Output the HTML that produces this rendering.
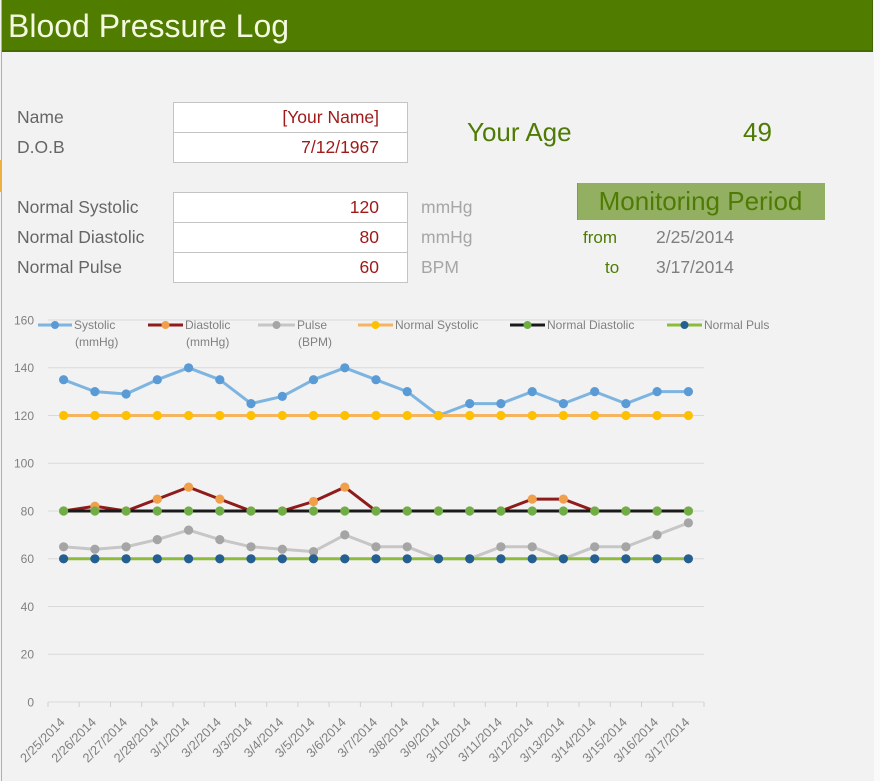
<!DOCTYPE html>
<html><head><meta charset="utf-8">
<style>
html,body{margin:0;padding:0;}
body{width:880px;height:781px;background:#F2F2F2;position:relative;overflow:hidden;font-family:"Liberation Sans",Arial,sans-serif;}
.abs{position:absolute;white-space:nowrap;}
#hdr{position:absolute;left:2px;top:0;width:870px;height:50px;background:#507D00;border-right:1px solid #3F6600;border-bottom:2px solid #436A00;}
.lbl{font-size:17.5px;color:#666;}
.box{position:absolute;left:173px;width:233px;height:29px;background:#fff;border:1px solid #C4C4C4;}
.val{font-size:17.5px;color:#A01A1A;text-align:right;}
.unit{font-size:17.5px;color:#A6A6A6;}
.grn{color:#4F7B05;}
</style></head><body>
<div class="abs" style="left:1px;top:0;width:1px;height:781px;background:#B0B0B0;"></div>
<div class="abs" style="left:0;top:160px;width:2px;height:32px;background:#F0B040;"></div>
<div class="abs" style="left:874px;top:0;width:6px;height:781px;background:#FAFAFA;"></div>
<div id="hdr"></div>
<svg class="abs" style="left:0;top:0" width="880" height="781" viewBox="0 0 880 781" xmlns="http://www.w3.org/2000/svg">
<defs>
<marker id="mS" markerWidth="12" markerHeight="12" refX="6" refY="6" markerUnits="userSpaceOnUse"><circle cx="6" cy="6" r="4.6" fill="#5B9BD5"/></marker>
<marker id="mD" markerWidth="12" markerHeight="12" refX="6" refY="6" markerUnits="userSpaceOnUse"><circle cx="6" cy="6" r="4.6" fill="#F0A04A"/></marker>
<marker id="mP" markerWidth="12" markerHeight="12" refX="6" refY="6" markerUnits="userSpaceOnUse"><circle cx="6" cy="6" r="4.6" fill="#A5A5A5"/></marker>
<marker id="mNS" markerWidth="12" markerHeight="12" refX="6" refY="6" markerUnits="userSpaceOnUse"><circle cx="6" cy="6" r="4.6" fill="#FFC000"/></marker>
<marker id="mND" markerWidth="12" markerHeight="12" refX="6" refY="6" markerUnits="userSpaceOnUse"><circle cx="6" cy="6" r="4.6" fill="#70AD47"/></marker>
<marker id="mNP" markerWidth="12" markerHeight="12" refX="6" refY="6" markerUnits="userSpaceOnUse"><circle cx="6" cy="6" r="4.6" fill="#255E91"/></marker>
</defs>
<text x="8" y="37" font-family="Liberation Sans, Arial, sans-serif" font-size="32" fill="#F3F8DE">Blood Pressure Log</text>

<g stroke="#D9D9D9" stroke-width="1">
<line x1="48" y1="320" x2="704" y2="320"/>
<line x1="48" y1="367.75" x2="704" y2="367.75"/>
<line x1="48" y1="415.5" x2="704" y2="415.5"/>
<line x1="48" y1="463.25" x2="704" y2="463.25"/>
<line x1="48" y1="511" x2="704" y2="511"/>
<line x1="48" y1="558.75" x2="704" y2="558.75"/>
<line x1="48" y1="606.5" x2="704" y2="606.5"/>
<line x1="48" y1="654.25" x2="704" y2="654.25"/>
<line x1="48" y1="702" x2="704" y2="702"/>
</g>
<g stroke="#D0D0D0" stroke-width="1">
<line x1="48" y1="702" x2="48" y2="707"/><line x1="79.2" y1="702" x2="79.2" y2="707"/><line x1="110.5" y1="702" x2="110.5" y2="707"/><line x1="141.7" y1="702" x2="141.7" y2="707"/><line x1="173" y1="702" x2="173" y2="707"/><line x1="204.2" y1="702" x2="204.2" y2="707"/><line x1="235.4" y1="702" x2="235.4" y2="707"/><line x1="266.7" y1="702" x2="266.7" y2="707"/><line x1="297.9" y1="702" x2="297.9" y2="707"/><line x1="329.1" y1="702" x2="329.1" y2="707"/><line x1="360.4" y1="702" x2="360.4" y2="707"/><line x1="391.6" y1="702" x2="391.6" y2="707"/><line x1="422.9" y1="702" x2="422.9" y2="707"/><line x1="454.1" y1="702" x2="454.1" y2="707"/><line x1="485.3" y1="702" x2="485.3" y2="707"/><line x1="516.6" y1="702" x2="516.6" y2="707"/><line x1="547.8" y1="702" x2="547.8" y2="707"/><line x1="579" y1="702" x2="579" y2="707"/><line x1="610.3" y1="702" x2="610.3" y2="707"/><line x1="641.5" y1="702" x2="641.5" y2="707"/><line x1="672.8" y1="702" x2="672.8" y2="707"/><line x1="704" y1="702" x2="704" y2="707"/>
</g>

<g font-family="Liberation Sans, Arial, sans-serif" font-size="12" fill="#808080" text-anchor="end">
<text x="34" y="324.5">160</text>
<text x="34" y="372.2">140</text>
<text x="34" y="420">120</text>
<text x="34" y="467.7">100</text>
<text x="34" y="515.5">80</text>
<text x="34" y="563.2">60</text>
<text x="34" y="611">40</text>
<text x="34" y="658.7">20</text>
<text x="34" y="706.5">0</text>
</g>

<g fill="none" stroke-width="3" stroke-linejoin="round">
<polyline stroke="#7DB4E0" marker-start="url(#mS)" marker-mid="url(#mS)" marker-end="url(#mS)" points="63.6,379.7 94.9,391.6 126.1,394.0 157.3,379.7 188.6,367.8 219.8,379.7 251.0,403.6 282.3,396.4 313.5,379.7 344.8,367.8 376.0,379.7 407.2,391.6 438.5,415.5 469.7,403.6 500.9,403.6 532.2,391.6 563.4,403.6 594.7,391.6 625.9,403.6 657.1,391.6 688.4,391.6"/>
<polyline stroke="#8E1C1C" marker-start="url(#mD)" marker-mid="url(#mD)" marker-end="url(#mD)" points="63.6,511 94.9,506.2 126.1,511 157.3,499.1 188.6,487.1 219.8,499.1 251.0,511 282.3,511 313.5,501.5 344.8,487.1 376.0,511 407.2,511 438.5,511 469.7,511 500.9,511 532.2,499.1 563.4,499.1 594.7,511 625.9,511 657.1,511 688.4,511"/>
<polyline stroke="#C6C6C6" marker-start="url(#mP)" marker-mid="url(#mP)" marker-end="url(#mP)" points="63.6,546.8 94.9,549.2 126.1,546.8 157.3,539.6 188.6,530.1 219.8,539.6 251.0,546.8 282.3,549.2 313.5,551.6 344.8,534.9 376.0,546.8 407.2,546.8 438.5,558.8 469.7,558.8 500.9,546.8 532.2,546.8 563.4,558.8 594.7,546.8 625.9,546.8 657.1,534.9 688.4,522.9"/>
<polyline stroke="#F4B460" marker-start="url(#mNS)" marker-mid="url(#mNS)" marker-end="url(#mNS)" points="63.6,415.5 94.9,415.5 126.1,415.5 157.3,415.5 188.6,415.5 219.8,415.5 251.0,415.5 282.3,415.5 313.5,415.5 344.8,415.5 376.0,415.5 407.2,415.5 438.5,415.5 469.7,415.5 500.9,415.5 532.2,415.5 563.4,415.5 594.7,415.5 625.9,415.5 657.1,415.5 688.4,415.5"/>
<polyline stroke="#1A1A1A" marker-start="url(#mND)" marker-mid="url(#mND)" marker-end="url(#mND)" points="63.6,511 94.9,511 126.1,511 157.3,511 188.6,511 219.8,511 251.0,511 282.3,511 313.5,511 344.8,511 376.0,511 407.2,511 438.5,511 469.7,511 500.9,511 532.2,511 563.4,511 594.7,511 625.9,511 657.1,511 688.4,511"/>
<polyline stroke="#8DBB3C" marker-start="url(#mNP)" marker-mid="url(#mNP)" marker-end="url(#mNP)" points="63.6,558.8 94.9,558.8 126.1,558.8 157.3,558.8 188.6,558.8 219.8,558.8 251.0,558.8 282.3,558.8 313.5,558.8 344.8,558.8 376.0,558.8 407.2,558.8 438.5,558.8 469.7,558.8 500.9,558.8 532.2,558.8 563.4,558.8 594.7,558.8 625.9,558.8 657.1,558.8 688.4,558.8"/>
</g>

<g stroke-width="3">
<line x1="38" y1="325" x2="72" y2="325" stroke="#7DB4E0"/><circle cx="55" cy="325" r="4" fill="#5B9BD5"/>
<line x1="148" y1="325" x2="183" y2="325" stroke="#8E1C1C"/><circle cx="165.5" cy="325" r="4" fill="#F0A04A"/>
<line x1="258" y1="325" x2="295" y2="325" stroke="#C6C6C6"/><circle cx="276.5" cy="325" r="4" fill="#A5A5A5"/>
<line x1="358" y1="325" x2="393" y2="325" stroke="#F4B460"/><circle cx="375.5" cy="325" r="4" fill="#FFC000"/>
<line x1="510" y1="325" x2="545" y2="325" stroke="#1A1A1A"/><circle cx="527.5" cy="325" r="4" fill="#70AD47"/>
<line x1="667" y1="325" x2="702" y2="325" stroke="#8DBB3C"/><circle cx="684.5" cy="325" r="4" fill="#255E91"/>
</g>
<g font-family="Liberation Sans, Arial, sans-serif" font-size="12" fill="#808080">
<text x="74" y="329">Systolic</text><text x="75" y="346">(mmHg)</text>
<text x="185" y="329">Diastolic</text><text x="186" y="346">(mmHg)</text>
<text x="297" y="329">Pulse</text><text x="298" y="346">(BPM)</text>
<text x="395" y="329">Normal Systolic</text>
<text x="547" y="329">Normal Diastolic</text>
<text x="704" y="329">Normal Puls</text>
</g>

<g font-family="Liberation Sans, Arial, sans-serif" font-size="12.8" fill="#808080" text-anchor="end">
<text transform="translate(65.6,723) rotate(-45)">2/25/2014</text>
<text transform="translate(96.9,723) rotate(-45)">2/26/2014</text>
<text transform="translate(128.1,723) rotate(-45)">2/27/2014</text>
<text transform="translate(159.3,723) rotate(-45)">2/28/2014</text>
<text transform="translate(190.6,723) rotate(-45)">3/1/2014</text>
<text transform="translate(221.8,723) rotate(-45)">3/2/2014</text>
<text transform="translate(253,723) rotate(-45)">3/3/2014</text>
<text transform="translate(284.3,723) rotate(-45)">3/4/2014</text>
<text transform="translate(315.5,723) rotate(-45)">3/5/2014</text>
<text transform="translate(346.8,723) rotate(-45)">3/6/2014</text>
<text transform="translate(378,723) rotate(-45)">3/7/2014</text>
<text transform="translate(409.2,723) rotate(-45)">3/8/2014</text>
<text transform="translate(440.5,723) rotate(-45)">3/9/2014</text>
<text transform="translate(471.7,723) rotate(-45)">3/10/2014</text>
<text transform="translate(502.9,723) rotate(-45)">3/11/2014</text>
<text transform="translate(534.2,723) rotate(-45)">3/12/2014</text>
<text transform="translate(565.4,723) rotate(-45)">3/13/2014</text>
<text transform="translate(596.7,723) rotate(-45)">3/14/2014</text>
<text transform="translate(627.9,723) rotate(-45)">3/15/2014</text>
<text transform="translate(659.1,723) rotate(-45)">3/16/2014</text>
<text transform="translate(690.4,723) rotate(-45)">3/17/2014</text>
</g>
</svg>

<div class="box" style="top:102px;"></div>
<div class="box" style="top:132px;"></div>
<div class="box" style="top:192px;"></div>
<div class="box" style="top:222px;"></div>
<div class="box" style="top:252px;"></div>

<div class="abs lbl" style="left:17px;top:107px;line-height:20px;">Name</div>
<div class="abs lbl" style="left:17px;top:137px;line-height:20px;">D.O.B</div>
<div class="abs lbl" style="left:17px;top:197px;line-height:20px;">Normal Systolic</div>
<div class="abs lbl" style="left:17px;top:227px;line-height:20px;">Normal Diastolic</div>
<div class="abs lbl" style="left:17px;top:257px;line-height:20px;">Normal Pulse</div>

<div class="abs val" style="left:180px;width:199px;top:107px;line-height:20px;">[Your Name]</div>
<div class="abs val" style="left:180px;width:199px;top:137px;line-height:20px;">7/12/1967</div>
<div class="abs val" style="left:180px;width:199px;top:197px;line-height:20px;">120</div>
<div class="abs val" style="left:180px;width:199px;top:227px;line-height:20px;">80</div>
<div class="abs val" style="left:180px;width:199px;top:257px;line-height:20px;">60</div>

<div class="abs unit" style="left:421px;top:197px;line-height:20px;">mmHg</div>
<div class="abs unit" style="left:421px;top:227px;line-height:20px;">mmHg</div>
<div class="abs unit" style="left:421px;top:257px;line-height:20px;">BPM</div>

<div class="abs grn" style="left:467px;top:117px;font-size:26px;line-height:30px;">Your Age</div>
<div class="abs grn" style="left:743px;top:117px;font-size:26px;line-height:30px;">49</div>

<div class="abs" style="left:577px;top:183px;width:247px;height:37px;background:#93B062;border-left:1px solid #7E9C4E;"></div>
<div class="abs grn" style="left:577px;top:186px;width:247px;text-align:center;font-size:26px;line-height:30px;">Monitoring Period</div>

<div class="abs grn" style="left:583px;top:228px;font-size:17px;line-height:20px;">from</div>
<div class="abs grn" style="left:605px;top:258px;font-size:17px;line-height:20px;">to</div>
<div class="abs" style="left:656px;top:227px;font-size:17.5px;line-height:20px;color:#7F7F7F;">2/25/2014</div>
<div class="abs" style="left:656px;top:257px;font-size:17.5px;line-height:20px;color:#7F7F7F;">3/17/2014</div>
</body></html>
